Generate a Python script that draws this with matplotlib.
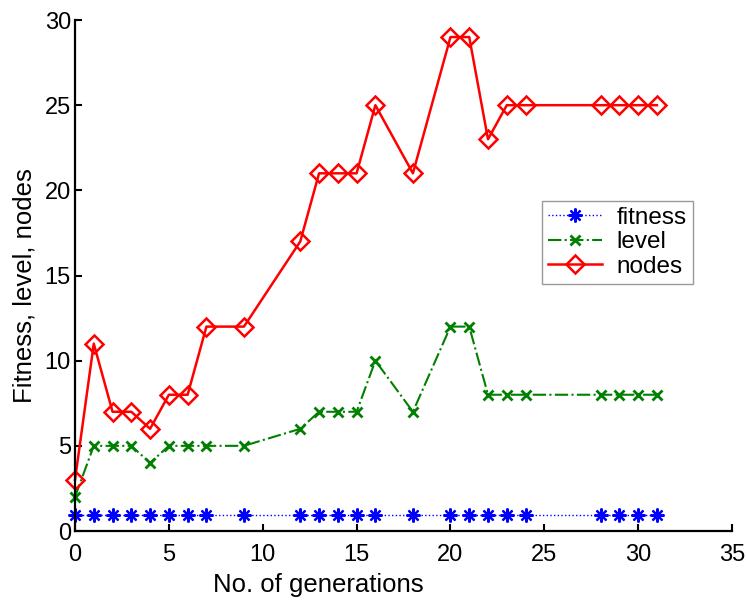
import matplotlib
matplotlib.use('Agg')
import matplotlib.pyplot as plt

plt.rcParams['font.family'] = ['Liberation Sans', 'DejaVu Sans']

# generations where a record was taken
generations = [0, 1, 2, 3, 4, 5, 6, 7, 9, 12, 13, 14, 15, 16, 18, 20, 21, 22, 23, 24, 28, 29, 30, 31]

fitness = [0.95] * len(generations)
level = [2, 5, 5, 5, 4, 5, 5, 5, 5, 6, 7, 7, 7, 10, 7, 12, 12, 8, 8, 8, 8, 8, 8, 8]
nodes = [3, 11, 7, 7, 6, 8, 8, 12, 12, 17, 21, 21, 21, 25, 21, 29, 29, 23, 25, 25, 25, 25, 25, 25]

x_ticks = [0, 5, 10, 15, 20, 25, 30, 35]
y_ticks = [0, 5, 10, 15, 20, 25, 30]

fig = plt.figure(figsize=(7.47, 6.03), dpi=100)
ax = fig.add_axes([0.1004, 0.1194, 0.8796, 0.8474])

# matlab style asterisk: + and x on top of each other
asterisk = (8, 2, 0)

ax.plot(generations, fitness, color='blue', linestyle=':', marker=asterisk,
        markersize=10, markeredgewidth=1.6, linewidth=1, label='fitness',
        clip_on=False)
ax.plot(generations, level, color=(0, 0.5, 0), linestyle='-.', marker='x',
        markersize=7.5, markeredgewidth=2, linewidth=1.5, label='level',
        clip_on=False)
ax.plot(generations, nodes, color='red', linestyle='-', marker='D',
        markersize=9, markerfacecolor='none', markeredgewidth=1.8,
        linewidth=1.8, label='nodes', clip_on=False)

ax.set_xlim(0, 35)
ax.set_ylim(0, 30)
ax.set_xticks(x_ticks)
ax.set_yticks(y_ticks)
ax.tick_params(direction='in', length=5, width=1.5, labelsize=17)
ax.tick_params(axis='x', pad=9)
ax.tick_params(axis='y', pad=3)
ax.spines['top'].set_visible(False)
ax.spines['right'].set_visible(False)
ax.spines['left'].set_linewidth(1.6)
ax.spines['bottom'].set_linewidth(1.6)

ax.set_xlabel('No. of generations', fontsize=18.5)
ax.set_ylabel('Fitness, level, nodes', fontsize=18.5)
# label sits left of centre in the original
ax.xaxis.set_label_coords(0.371, -0.083)
ax.yaxis.set_label_coords(-0.058, 0.481)

leg = ax.legend(loc='upper left', bbox_to_anchor=(0.711, 0.646), fontsize=17.5,
                fancybox=False, edgecolor='gray', handlelength=2.2,
                borderpad=0.25, labelspacing=0.1, borderaxespad=0,
                handletextpad=0.6)
leg.get_frame().set_linewidth(1)

fig.savefig('out.png', dpi=100)
